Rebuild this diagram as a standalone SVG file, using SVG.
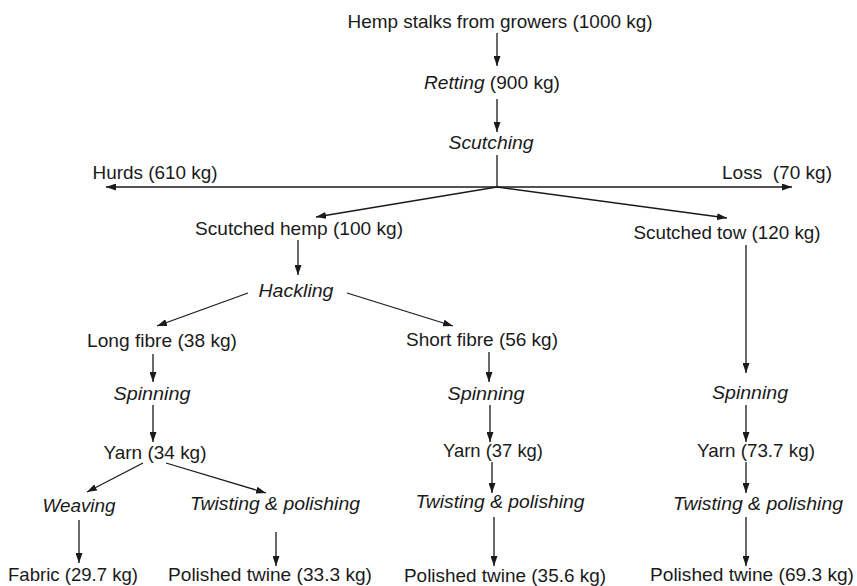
<svg xmlns="http://www.w3.org/2000/svg" width="857" height="586" viewBox="0 0 857 586">
<style>
text{font-family:"Liberation Sans",Arial,sans-serif;font-size:18.5px;fill:#1a1a1a;text-anchor:middle;white-space:pre}
.i{font-style:italic}
.c line{stroke:#1a1a1a;stroke-width:1.3;fill:none}
.a{marker-end:url(#ah)}
</style>
<defs>
<marker id="ah" markerUnits="userSpaceOnUse" markerWidth="10" markerHeight="7" refX="10" refY="3.5" orient="auto">
<path d="M0,0 L10,3.5 L0,7 z" fill="#1a1a1a"/>
</marker>
</defs>
<rect width="857" height="586" fill="#fff"/>
<g id="connectors" class="c">
<line class="a" x1="497" y1="33" x2="497" y2="66"/>
<line class="a" x1="497" y1="99" x2="497" y2="132"/>
<line x1="497" y1="155" x2="497" y2="187"/>
<line class="a" x1="497" y1="187" x2="106" y2="187"/>
<line class="a" x1="497" y1="187" x2="792" y2="187"/>
<line class="a" x1="497" y1="187" x2="316" y2="217"/>
<line class="a" x1="497" y1="187" x2="727" y2="218"/>
<line class="a" x1="298" y1="240" x2="298" y2="275"/>
<line class="a" x1="248" y1="293" x2="157" y2="326"/>
<line class="a" x1="347" y1="293" x2="453" y2="326"/>
<line class="a" x1="153" y1="354" x2="153" y2="382"/>
<line class="a" x1="489" y1="352" x2="489" y2="382"/>
<line class="a" x1="746" y1="245" x2="746" y2="373"/>
<line class="a" x1="153" y1="405" x2="153" y2="442"/>
<line class="a" x1="490" y1="405" x2="490" y2="442"/>
<line class="a" x1="746" y1="405" x2="746" y2="442"/>
<line class="a" x1="143" y1="463" x2="87" y2="492"/>
<line class="a" x1="166" y1="463" x2="266" y2="493"/>
<line class="a" x1="492" y1="462" x2="492" y2="493"/>
<line class="a" x1="746" y1="462" x2="746" y2="493"/>
<line class="a" x1="79" y1="520" x2="79" y2="563"/>
<line class="a" x1="276" y1="532" x2="276" y2="566"/>
<line class="a" x1="494" y1="517" x2="494" y2="566"/>
<line class="a" x1="746" y1="517" x2="746" y2="566"/>
</g>
<g id="hemp"><text x="500" y="28" textLength="305" lengthAdjust="spacingAndGlyphs">Hemp stalks from growers (1000 kg)</text></g>
<g id="retting"><text x="492" y="89" textLength="136" lengthAdjust="spacingAndGlyphs"><tspan class="i">Retting</tspan> (900 kg)</text></g>
<g id="scutching"><text class="i" x="491" y="149" textLength="85" lengthAdjust="spacingAndGlyphs">Scutching</text></g>
<g id="hurds"><text x="155" y="179" textLength="125" lengthAdjust="spacingAndGlyphs">Hurds (610 kg)</text></g>
<g id="loss"><text x="777" y="179" textLength="110" lengthAdjust="spacingAndGlyphs">Loss  (70 kg)</text></g>
<g id="scutched-hemp"><text x="299" y="235" textLength="208" lengthAdjust="spacingAndGlyphs">Scutched hemp (100 kg)</text></g>
<g id="scutched-tow"><text x="727" y="239" textLength="187" lengthAdjust="spacingAndGlyphs">Scutched tow (120 kg)</text></g>
<g id="hackling"><text class="i" x="296" y="297" textLength="75" lengthAdjust="spacingAndGlyphs">Hackling</text></g>
<g id="long-fibre"><text x="162" y="347" textLength="150" lengthAdjust="spacingAndGlyphs">Long fibre (38 kg)</text></g>
<g id="short-fibre"><text x="482" y="346" textLength="152" lengthAdjust="spacingAndGlyphs">Short fibre (56 kg)</text></g>
<g id="spinning-1"><text class="i" x="152" y="400" textLength="77" lengthAdjust="spacingAndGlyphs">Spinning</text></g>
<g id="spinning-2"><text class="i" x="486" y="400" textLength="77" lengthAdjust="spacingAndGlyphs">Spinning</text></g>
<g id="spinning-3"><text class="i" x="750" y="399" textLength="76" lengthAdjust="spacingAndGlyphs">Spinning</text></g>
<g id="yarn-1"><text x="155" y="459" textLength="103" lengthAdjust="spacingAndGlyphs">Yarn (34 kg)</text></g>
<g id="yarn-2"><text x="493" y="457" textLength="100" lengthAdjust="spacingAndGlyphs">Yarn (37 kg)</text></g>
<g id="yarn-3"><text x="756" y="457" textLength="118" lengthAdjust="spacingAndGlyphs">Yarn (73.7 kg)</text></g>
<g id="weaving"><text class="i" x="79" y="512" textLength="73" lengthAdjust="spacingAndGlyphs">Weaving</text></g>
<g id="twisting-1"><text class="i" x="275" y="510" textLength="170" lengthAdjust="spacingAndGlyphs">Twisting &amp; polishing</text></g>
<g id="twisting-2"><text class="i" x="500" y="508" textLength="169" lengthAdjust="spacingAndGlyphs">Twisting &amp; polishing</text></g>
<g id="twisting-3"><text class="i" x="758" y="510" textLength="170" lengthAdjust="spacingAndGlyphs">Twisting &amp; polishing</text></g>
<g id="fabric"><text x="73" y="581" textLength="130" lengthAdjust="spacingAndGlyphs">Fabric (29.7 kg)</text></g>
<g id="twine-1"><text x="270" y="581" textLength="204" lengthAdjust="spacingAndGlyphs">Polished twine (33.3 kg)</text></g>
<g id="twine-2"><text x="505" y="582" textLength="202" lengthAdjust="spacingAndGlyphs">Polished twine (35.6 kg)</text></g>
<g id="twine-3"><text x="752" y="581" textLength="204" lengthAdjust="spacingAndGlyphs">Polished twine (69.3 kg)</text></g>
</svg>
